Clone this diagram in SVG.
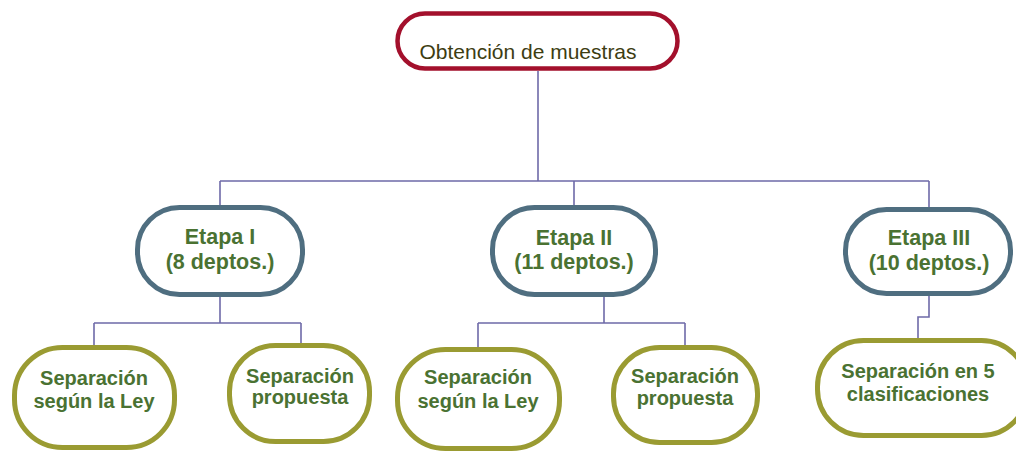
<svg xmlns="http://www.w3.org/2000/svg" width="1016" height="452" viewBox="0 0 1016 452">
<style>
.top{fill:#fff;stroke:#A3102C;stroke-width:4.5}
.stage{fill:#fff;stroke:#4F6E80;stroke-width:5}
.leaf{fill:#fff;stroke:#9A9B32;stroke-width:5}
.conn{fill:none;stroke:#6E6AA8;stroke-width:1.6}
.t0{font-family:"Liberation Sans",Arial,sans-serif;font-size:21px;fill:#3D3D12;text-anchor:middle}
.t1{font-family:"Liberation Sans",Arial,sans-serif;font-size:21.5px;font-weight:bold;fill:#4A7232;text-anchor:middle}
.t2{font-family:"Liberation Sans",Arial,sans-serif;font-size:20px;font-weight:bold;fill:#4A7232;text-anchor:middle}
</style>
<rect width="1016" height="452" fill="#fff"/>
<g id="connectors">
<path class="conn" d="M538 71V181M220 181H929M220 181V207M574 181V207M929 181V209"/>
<path class="conn" d="M220 297V323M94 323H301M94 323V347M301 323V345"/>
<path class="conn" d="M604 297V323M478 323H685M478 323V349M685 323V347"/>
<path class="conn" d="M929 296V317H918V340"/>
</g>
<g id="n-top">
<rect class="top" x="397.5" y="13.5" width="280" height="55" rx="27.5"/>
<text class="t0" x="528" y="59">Obtención de muestras</text>
</g>
<g id="n-etapa1">
<rect class="stage" x="137.5" y="207.5" width="165" height="87" rx="42"/>
<text class="t1" x="220" y="244">Etapa I</text>
<text class="t1" x="220" y="269">(8 deptos.)</text>
</g>
<g id="n-etapa2">
<rect class="stage" x="492.5" y="207.5" width="163" height="87" rx="42"/>
<text class="t1" x="574" y="245">Etapa II</text>
<text class="t1" x="574" y="269">(11 deptos.)</text>
</g>
<g id="n-etapa3">
<rect class="stage" x="845.5" y="209.5" width="165" height="84" rx="41"/>
<text class="t1" x="929" y="245">Etapa III</text>
<text class="t1" x="929" y="270">(10 deptos.)</text>
</g>
<g id="n-ley1">
<rect class="leaf" x="14.5" y="347.5" width="160" height="100" rx="48"/>
<text class="t2" x="94" y="385">Separación</text>
<text class="t2" x="94" y="408">según la Ley</text>
</g>
<g id="n-prop1">
<rect class="leaf" x="229.5" y="345.5" width="140" height="96" rx="46"/>
<text class="t2" x="300" y="383">Separación</text>
<text class="t2" x="300" y="404">propuesta</text>
</g>
<g id="n-ley2">
<rect class="leaf" x="397.5" y="349.5" width="162" height="99" rx="48"/>
<text class="t2" x="478" y="384">Separación</text>
<text class="t2" x="478" y="408">según la Ley</text>
</g>
<g id="n-prop2">
<rect class="leaf" x="613.5" y="347.5" width="144" height="95" rx="46"/>
<text class="t2" x="685" y="383">Separación</text>
<text class="t2" x="685" y="405">propuesta</text>
</g>
<g id="n-clas">
<rect class="leaf" x="817.5" y="340.5" width="210" height="95" rx="46"/>
<text class="t2" x="918" y="378">Separación en 5</text>
<text class="t2" x="918" y="401">clasificaciones</text>
</g>
</svg>
